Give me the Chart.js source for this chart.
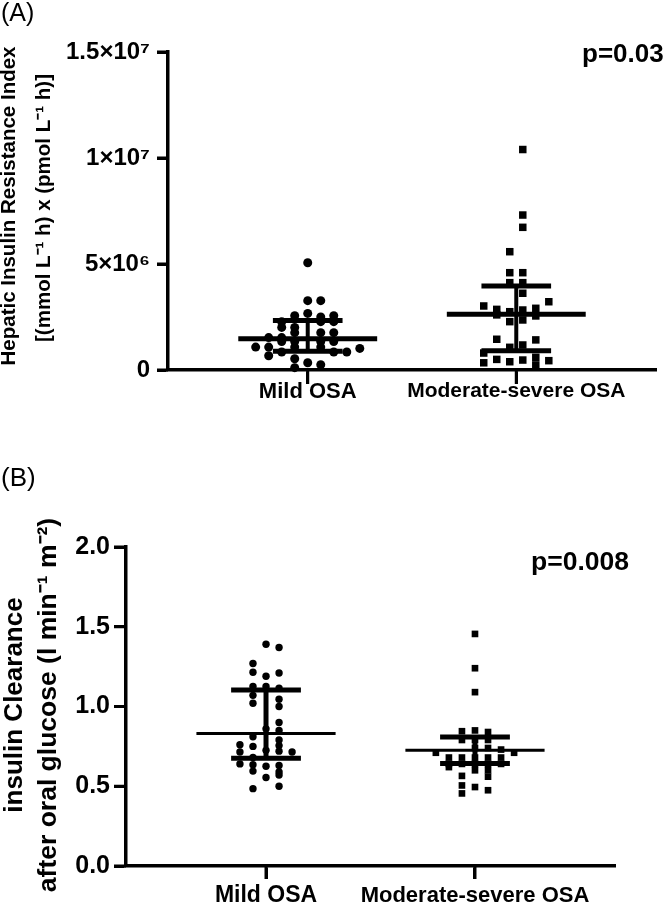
<!DOCTYPE html>
<html>
<head>
<meta charset="utf-8">
<script src="https://cdn.jsdelivr.net/npm/chart.js@4.4.0/dist/chart.umd.min.js"></script>
<style>
  html, body { margin: 0; padding: 0; background: #fff; }
  #wrap { position: relative; width: 664px; height: 906px; }
  canvas { position: absolute; left: 0; }
  #chartA { top: 0; }
  #chartB { top: 440px; }
</style>
</head>
<body>
<div id="wrap">
  <canvas id="chartA" width="664" height="440"></canvas>
  <canvas id="chartB" width="664" height="466"></canvas>
</div>
<script>
const groups = ["Mild OSA", "Moderate-severe OSA"];

// (A) hepatic insulin resistance index, one value per subject + its jitter column
const hirMild = [5.06e6, 3.27e6, 3.27e6, 2.67e6, 2.56e6, 2.50e6, 2.56e6, 2.28e6, 2.28e6, 2.28e6,
    2.01e6, 2.01e6, 1.76e6, 1.76e6, 1.76e6, 1.53e6, 1.53e6, 1.34e6, 1.34e6, 1.34e6, 1.34e6,
    1.08e6, 1.08e6, 1.08e6, 1.08e6, 1.02e6, 0.85e6, 0.85e6, 0.85e6, 0.67e6, 0.53e6, 0.34e6, 0.25e6, 0.11e6];
const hirMildCol = [0, 0, 1, 0, -1, 1, 2, -2, 1, 2, -2, -1, -1, 1, 2, -3, -2, -2, -1, 1, 2,
    -4, -3, -1, 1, 4, -2, 2, 3, -3, -1, 0, 1, -1];
const hirMod = [10.4e6, 7.31e6, 6.73e6, 5.58e6, 4.59e6, 4.59e6, 4.12e6, 4.12e6, 3.62e6, 3.22e6,
    3.02e6, 2.86e6, 2.60e6, 2.75e6, 2.28e6, 2.83e6, 2.36e6, 2.91e6, 2.55e6, 1.45e6, 1.42e6,
    1.07e6, 1.18e6, 0.80e6, 0.34e6, 0.50e6, 0.39e6, 0.47e6, 0.60e6, 0.24e6, 0.44e6];
const hirModCol = [0.5, 0.5, 0.5, -0.5, -0.5, 0.5, -0.5, 0.5, 0.5, 2.5, -2.5, -1.5, -1.5, -0.5, -0.5,
    0.5, 0.5, 1.5, 1.5, -1.5, 1.5, -0.5, 0.5, -2.5, -2.5, -1.5, -0.5, 0.5, 1.5, 1.5, 2.5];
const hirMedian = [1.47e6, 2.63e6];
const hirQ1 = [0.88e6, 0.91e6];
const hirQ3 = [2.33e6, 3.96e6];
const hirTicks = [0, 5e6, 1e7, 1.5e7];
const hirTickLabels = ["0", "5×10⁶", "1×10⁷", "1.5×10⁷"];

// (B) insulin clearance after oral glucose
const clrMild = [1.39, 1.37, 1.27, 1.215, 1.21, 1.19, 1.125, 1.125, 1.115, 1.07, 1.045, 1.02, 1.0,
    0.90, 0.86, 0.85, 0.81, 0.79, 0.76, 0.75, 0.755, 0.715, 0.725, 0.72, 0.715, 0.68,
    0.64, 0.635, 0.625, 0.63, 0.595, 0.59, 0.555, 0.57, 0.5, 0.485];
const clrMildCol = [0, 1, -1, -1, 1, 0, -1, 0, 1, -1, 1, -1, 1, 1, 0, 1, -1, 1, -2, -1, 1,
    -2, 0, 1, 2, -1, -2, -1, 0, 1, -1, 1, 0, 1, 1, -1];
const clrMod = [1.455, 1.24, 1.09, 0.845, 0.85, 0.84, 0.79, 0.79, 0.79, 0.74, 0.74, 0.73, 0.71, 0.71,
    0.68, 0.68, 0.68, 0.68, 0.68, 0.64, 0.64, 0.64, 0.64, 0.64, 0.62, 0.60, 0.60, 0.565, 0.56,
    0.505, 0.495, 0.475, 0.455];
const clrModCol = [0, 0, 0, -1, 0, 1, -1, 0, 1, 0, 1, 2, -3, 3, -2, -1, 0, 1, 2, -2, -1, 0, 1, 2,
    -2, 0, 1, -1, 1, -1, 0, 1, -1];
const clrMedian = [0.83, 0.725];
const clrQ1 = [0.675, 0.642];
const clrQ3 = [1.104, 0.808];
const clrTicks = [0, 0.5, 1, 1.5, 2];
const clrTickLabels = ["0.0", "0.5", "1.0", "1.5", "2.0"];

const FONT = "'Liberation Sans', Arial, Helvetica, sans-serif";
const COL_STEP = 0.0624;

/*
=====================================
HELPERS
=====================================
*/

function jittered(values, cols, group) {
    return values.map((v, i) => ({ x: group + cols[i] * COL_STEP, y: v }));
}

function segment(a, b, width) {
    return {
        data: [a, b],
        showLine: true,
        pointRadius: 0,
        borderColor: "#000",
        borderWidth: width,
        clip: false
    };
}

function summaryLines(median, q1, q3, w) {
    const sets = [];
    median.forEach((m, i) => {
        const g = i + 1;
        sets.push(segment({ x: g - 0.333, y: m }, { x: g + 0.333, y: m }, w.median));
        sets.push(segment({ x: g - 0.167, y: q3[i] }, { x: g + 0.167, y: q3[i] }, w.bar));
        sets.push(segment({ x: g - 0.167, y: q1[i] }, { x: g + 0.167, y: q1[i] }, w.bar));
        sets.push(segment({ x: g, y: q1[i] }, { x: g, y: q3[i] }, w.stem));
    });
    return sets;
}

// tick marks, rotated axis titles, panel letter and p value
const panelText = {
    id: "panelText",
    afterDraw(chart, args, opts) {
        const ctx = chart.ctx;
        const area = chart.chartArea;
        const sx = chart.scales.x;
        const sy = chart.scales.y;
        ctx.save();
        ctx.strokeStyle = "#000";
        ctx.lineWidth = 3;
        ctx.beginPath();
        sx.ticks.forEach(t => {
            const px = sx.getPixelForValue(t.value);
            ctx.moveTo(px, area.bottom);
            ctx.lineTo(px, area.bottom + opts.xTickLen);
        });
        sy.ticks.forEach(t => {
            const py = sy.getPixelForValue(t.value);
            ctx.moveTo(area.left - opts.yTickLen, py);
            ctx.lineTo(area.left, py);
        });
        ctx.stroke();

        ctx.fillStyle = "#000";
        ctx.textBaseline = "alphabetic";
        ctx.textAlign = "center";
        opts.titles.forEach(t => {
            ctx.save();
            ctx.font = t.font;
            ctx.translate(t.x, t.y);
            ctx.rotate(-Math.PI / 2);
            ctx.fillText(t.text, 0, 0);
            ctx.restore();
        });

        ctx.textAlign = "left";
        opts.items.forEach(t => {
            ctx.font = t.font;
            ctx.fillText(t.text, t.x, t.y);
        });
        ctx.restore();
    }
};

function makePanel(id, p) {
    return new Chart(document.getElementById(id), {
        type: "scatter",
        data: {
            datasets: [
                {
                    data: jittered(p.mild, p.mildCol, 1),
                    pointStyle: "circle",
                    pointRadius: p.circleR,
                    backgroundColor: "#000",
                    borderWidth: 0,
                    clip: false
                },
                {
                    data: jittered(p.mod, p.modCol, 2),
                    pointStyle: "rect",
                    pointRadius: p.rectR,
                    backgroundColor: "#000",
                    borderWidth: 0,
                    clip: false
                },
                ...summaryLines(p.median, p.q1, p.q3, p.widths)
            ]
        },
        options: {
            responsive: false,
            animation: false,
            events: [],
            layout: { padding: p.padding },
            plugins: {
                legend: { display: false },
                tooltip: { enabled: false },
                panelText: {
                    items: p.texts,
                    titles: p.titles,
                    xTickLen: p.xTickLen,
                    yTickLen: p.yTickLen
                }
            },
            scales: {
                x: {
                    type: "linear",
                    min: 0.33,
                    max: 2.67,
                    afterBuildTicks: axis => {
                        axis.ticks = groups.map((g, i) => ({ value: i + 1 }));
                    },
                    afterFit: s => { s.height = p.xHeight; },
                    border: { display: true, width: 3.5, color: "#000" },
                    grid: {
                        display: true, drawOnChartArea: false, drawTicks: true,
                        tickLength: p.xTickLen, tickWidth: 3, tickColor: "#000"
                    },
                    ticks: {
                        callback: (v, i) => groups[i],
                        color: "#000",
                        font: c => ({ family: FONT, size: p.xFont[c.index] || p.xFont[0], weight: "bold", lineHeight: 1 }),
                        padding: p.xPad,
                        maxRotation: 0,
                        autoSkip: false
                    }
                },
                y: {
                    type: "linear",
                    min: p.yTicks[0],
                    max: p.yTicks[p.yTicks.length - 1],
                    afterBuildTicks: axis => {
                        axis.ticks = p.yTicks.map(v => ({ value: v }));
                    },
                    afterFit: s => { s.width = p.yWidth; },
                    border: { display: true, width: 3.5, color: "#000" },
                    grid: {
                        display: true, drawOnChartArea: false, drawTicks: true,
                        tickLength: p.yTickLen, tickWidth: 3, tickColor: "#000"
                    },
                    ticks: {
                        callback: (v, i) => p.yLabels[i],
                        color: "#000",
                        font: { family: FONT, size: p.yFont, weight: "bold" },
                        padding: p.yPad
                    }
                }
            }
        },
        plugins: [panelText]
    });
}

/*
=====================================
PANELS
=====================================
*/

makePanel("chartA", {
    mild: hirMild, mildCol: hirMildCol, mod: hirMod, modCol: hirModCol,
    median: hirMedian, q1: hirQ1, q3: hirQ3,
    yTicks: hirTicks, yLabels: hirTickLabels,
    titles: [
        { text: "Hepatic Insulin Resistance Index", x: 14.5, y: 206, font: "bold 20.5px " + FONT },
        { text: "[(mmol L⁻¹ h) x (pmol L⁻¹ h)]", x: 49.5, y: 208, font: "bold 20.5px " + FONT }
    ],
    circleR: 4.5, rectR: 5.3,
    widths: { median: 5, bar: 5, stem: 4 },
    padding: { left: 0, top: 52, right: 8, bottom: 10 },
    xHeight: 60, yWidth: 168,
    xTickLen: 14, yTickLen: 11,
    xFont: [22, 21], xPad: -3, yFont: 24, yPad: 7,
    texts: [
        { text: "(A)", x: 1, y: 21, font: "25px " + FONT },
        { text: "p=0.03", x: 582, y: 62, font: "bold 26px " + FONT }
    ]
});

makePanel("chartB", {
    mild: clrMild, mildCol: clrMildCol, mod: clrMod, modCol: clrModCol,
    median: clrMedian, q1: clrQ1, q3: clrQ3,
    yTicks: clrTicks, yLabels: clrTickLabels,
    titles: [
        { text: "insulin Clearance", x: 22, y: 265, font: "bold 26px " + FONT },
        { text: "after oral glucose (l min⁻¹ m⁻²)", x: 55.5, y: 265, font: "bold 26.5px " + FONT }
    ],
    circleR: 3.7, rectR: 4.7,
    widths: { median: 3, bar: 5, stem: 5 },
    padding: { left: 0, top: 107, right: 49, bottom: 4 },
    xHeight: 36, yWidth: 126,
    xTickLen: 13, yTickLen: 12,
    xFont: [23, 22], xPad: 5.5, yFont: 25, yPad: 4,
    texts: [
        { text: "(B)", x: 1, y: 46, font: "26px " + FONT },
        { text: "p=0.008", x: 531, y: 130, font: "bold 26.5px " + FONT }
    ]
});
</script>
</body>
</html>
